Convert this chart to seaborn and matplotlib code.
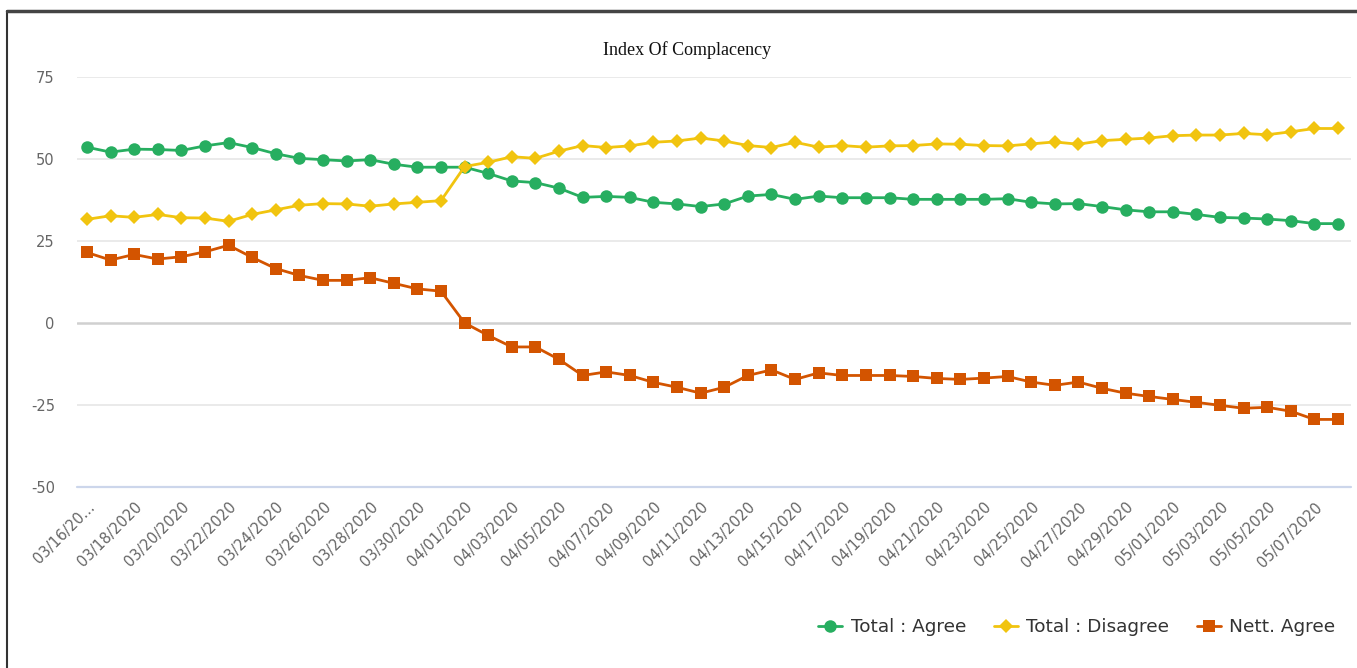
import numpy as np
import pandas as pd
import matplotlib.pyplot as plt
import seaborn as sns
from matplotlib.lines import Line2D

sns.set_style("white")
plt.rcParams['font.family'] = ['DejaVu Sans']
plt.rcParams['axes.unicode_minus'] = False

dates = pd.date_range("2020-03-16", "2020-05-08").strftime("%m/%d/%Y").tolist()

agree = [53.6, 52.1, 53.0, 52.9, 52.6, 54.0, 55.0, 53.5, 51.6, 50.2,
         49.8, 49.4, 49.8, 48.4, 47.5, 47.5, 47.5, 45.6, 43.3, 42.8,
         41.1, 38.3, 38.6, 38.3, 36.8, 36.3, 35.5, 36.3, 38.7, 39.2,
         37.7, 38.7, 38.2, 38.2, 38.2, 37.7, 37.7, 37.7, 37.7, 37.9,
         36.8, 36.3, 36.4, 35.5, 34.5, 33.9, 33.9, 33.1, 32.2, 32.0,
         31.7, 31.2, 30.3, 30.3]
disagree = [31.6, 32.7, 32.2, 33.1, 32.1, 32.0, 31.0, 33.1, 34.5, 35.9,
            36.4, 36.3, 35.6, 36.3, 36.8, 37.3, 47.7, 49.0, 50.7, 50.2,
            52.4, 54.1, 53.5, 54.0, 55.1, 55.5, 56.4, 55.5, 54.1, 53.5,
            55.1, 53.6, 54.1, 53.6, 54.0, 54.1, 54.6, 54.5, 54.1, 54.0,
            54.6, 55.2, 54.5, 55.6, 56.0, 56.4, 57.1, 57.3, 57.3, 57.8,
            57.4, 58.3, 59.3, 59.3]
nett = [21.5, 19.2, 20.9, 19.5, 20.2, 21.7, 23.7, 20.0, 16.6, 14.5,
        13.0, 13.0, 13.8, 12.1, 10.4, 9.7, 0.0, -3.8, -7.3, -7.3,
        -11.1, -16.0, -14.9, -16.0, -18.1, -19.6, -21.4, -19.6, -16.0, -14.3,
        -17.2, -15.2, -16.0, -16.0, -16.0, -16.3, -16.9, -17.2, -16.8, -16.3,
        -18.0, -19.0, -18.0, -19.9, -21.4, -22.4, -23.3, -24.2, -25.1, -26.0,
        -25.7, -26.9, -29.4, -29.4]

series_names = ["Total : Agree", "Total : Disagree", "Nett. Agree"]
colors = ["#27ae60", "#f1c40f", "#d35400"]
markers = ["o", "D", "s"]
msizes = [9, 7, 9]

fig = plt.figure(figsize=(13.57, 6.68), dpi=100)
ax = fig.add_axes([77 / 1357, 1 - 487 / 668, (1351 - 77) / 1357, (487 - 77) / 668])

x = np.arange(len(dates))
for name, vals, c, m, ms in zip(series_names, [agree, disagree, nett], colors, markers, msizes):
    sns.lineplot(x=x, y=vals, ax=ax, color=c, marker=m, markersize=ms,
                 markeredgewidth=0, linewidth=2, label=name, legend=False)

ax.set_ylim(-50, 75)
ax.set_xlim(-0.42, 53.55)
ax.set_yticks([-50, -25, 0, 25, 50, 75])
ax.yaxis.grid(False)
for yv in [75, 50, 25, -25]:
    ax.axhline(yv, color="#e6e6e6", linewidth=1.2, zorder=0.5)
ax.axhline(0, color="#d0d0d0", linewidth=1.8, zorder=0.6)
ax.axhline(-50, color="#ccd6eb", linewidth=1.6, zorder=0.6, clip_on=False)
for s in ax.spines.values():
    s.set_visible(False)

ax.set_xticks(x[::2])
labels = [d for d in dates[::2]]
labels[0] = "03/16/20..."
ax.set_xticklabels(labels, rotation=45, ha="right", rotation_mode="anchor")
ax.tick_params(axis="x", length=0, pad=9, labelsize=10.5, labelcolor="#666666")
ax.tick_params(axis="y", length=0, pad=16, labelsize=10.5, labelcolor="#666666")

fig.text(687 / 1357, 1 - 50 / 668, "Index Of Complacency", ha="center", va="center",
         fontsize=13, family="Liberation Serif", color="#111111")

handles = [Line2D([0], [0], color=c, marker=m, markersize=ms, markeredgewidth=0, linewidth=2)
           for c, m, ms in zip(colors, markers, msizes)]
fig.legend(handles, series_names, loc="center right", bbox_to_anchor=(1352 / 1357, 1 - 627 / 668),
           ncol=3, frameon=False, fontsize=13.3, labelcolor="#333333", handlelength=1.3,
           handletextpad=0.45, columnspacing=1.5)

# outer frame (left and top edges)
fig.add_artist(Line2D([7 / 1357, 7 / 1357], [0, 1 - 11 / 668], transform=fig.transFigure,
                      color="#333333", linewidth=1.5))
fig.add_artist(Line2D([7 / 1357, 1], [1 - 11 / 668, 1 - 11 / 668], transform=fig.transFigure,
                      color="#444444", linewidth=2.5))

fig.savefig("out.png", dpi=100)
